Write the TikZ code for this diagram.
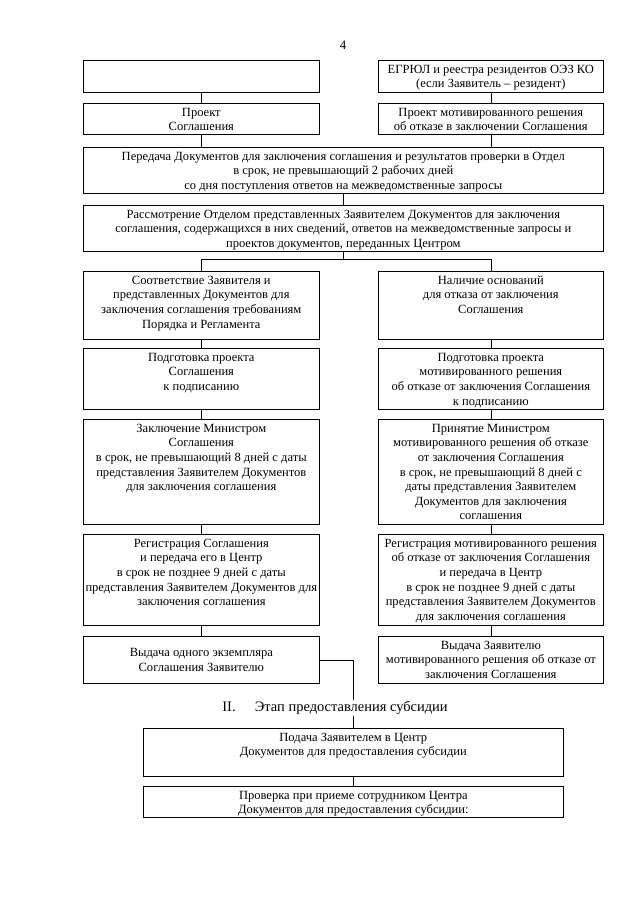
\documentclass[tikz,border=0pt]{standalone}
\usepackage{fontspec}
\setmainfont{Liberation Serif}
\usepackage{tikz}
\usetikzlibrary{calc}

\newlength{\px}
\setlength{\px}{0.0328cm}
\newcommand{\cell}[4][t]{\parbox[c][#3\px][#1]{#2\px}{\vspace{2.6pt}\makebox[\linewidth]{\begin{tabular}{@{}c@{}}#4\end{tabular}}}}

\begin{document}
\begin{tikzpicture}[x=0.0328cm,y=-0.0328cm,line width=0.6pt,
  blk/.style={draw,inner sep=0pt,anchor=north west,font=\fontsize{11.7}{13.6}\selectfont}]
\useasboundingbox (0,0) rectangle (640,898);
\node[font=\fontsize{12}{13.8}\selectfont] (pnum) at (343,45) {4};
\node[blk] (tl) at (83,60) {\cell{236}{32}{}};
\node[blk] (tr) at (378,60) {\cell{225}{32}{ЕГРЮЛ и реестра резидентов ОЭЗ КО\\(если Заявитель – резидент)}};
\node[blk] (pl) at (83,103) {\cell{236}{31}{Проект\\Соглашения}};
\node[blk] (pr) at (378,103) {\cell{225}{31}{Проект мотивированного решения\\об отказе в заключении Соглашения}};
\node[blk] (per) at (83,147) {\cell{520}{46}{Передача Документов для заключения соглашения и результатов проверки в Отдел\\в срок, не превышающий 2 рабочих дней\\со дня поступления ответов на межведомственные запросы}};
\node[blk] (ras) at (83,205) {\cell{520}{46}{Рассмотрение Отделом представленных Заявителем Документов для заключения\\соглашения, содержащихся в них сведений, ответов на межведомственные запросы и\\проектов документов, переданных Центром}};
\node[blk] (soo) at (83,271) {\cell{236}{68}{Соответствие Заявителя и\\представленных Документов для\\заключения соглашения требованиям\\Порядка и Регламента}};
\node[blk] (nal) at (378,271) {\cell{225}{68}{Наличие оснований\\для отказа от заключения\\Соглашения}};
\node[blk] (podl) at (83,348) {\cell{236}{61}{Подготовка проекта\\Соглашения\\к подписанию}};
\node[blk] (podr) at (378,348) {\cell{225}{61}{Подготовка проекта\\мотивированного решения\\об отказе от заключения Соглашения\\к подписанию}};
\node[blk] (zak) at (83,419) {\cell{236}{105}{Заключение Министром\\Соглашения\\в срок, не превышающий 8 дней с даты\\представления Заявителем Документов\\для заключения соглашения}};
\node[blk] (prin) at (378,419) {\cell{225}{105}{Принятие Министром\\мотивированного решения об отказе\\от заключения Соглашения\\в срок, не превышающий 8 дней с\\даты представления Заявителем\\Документов для заключения\\соглашения}};
\node[blk] (regl) at (83,534) {\cell{236}{91}{Регистрация Соглашения\\и передача его в Центр\\в срок не позднее 9 дней с даты\\представления Заявителем Документов для\\заключения соглашения}};
\node[blk] (regr) at (378,534) {\cell{225}{91}{Регистрация мотивированного решения\\об отказе от заключения Соглашения\\и передача в Центр\\в срок не позднее 9 дней с даты\\представления Заявителем Документов\\для заключения соглашения}};
\node[blk] (vydl) at (83,636) {\cell[c]{236}{47}{Выдача одного экземпляра\\Соглашения Заявителю}};
\node[blk] (vydr) at (378,636) {\cell{225}{47}{Выдача Заявителю\\мотивированного решения об отказе от\\заключения Соглашения}};
\node[blk] (pod) at (143,728) {\cell{420}{48}{Подача Заявителем в Центр\\Документов для предоставления субсидии}};
\node[blk] (prov) at (143,786) {\cell{420}{31}{Проверка при приеме сотрудником Центра\\Документов для предоставления субсидии:}};
\draw (tl) -- (pl);
\draw (tr) -- (pr);
\draw (pl) -- (pl.south |- per.north);
\draw (pr) -- (pr.south |- per.north);
\draw (per) -- (ras);
\coordinate (split) at ($(ras.south)+(0,8)$);
\draw (ras.south) -- (split);
\draw (soo.north) |- (split) -| (nal.north);
\draw (soo) -- (podl);
\draw (nal) -- (podr);
\draw (podl) -- (zak);
\draw (podr) -- (prin);
\draw (zak) -- (regl);
\draw (prin) -- (regr);
\draw (regl) -- (vydl);
\draw (regr) -- (vydr);
\draw (vydl.east) -| (pod.north);
\draw (pod) -- (prov);
\node[fill=white,inner sep=1pt,anchor=west,font=\fontsize{13.5}{15}\selectfont] (etap) at (221,708) {II.\hspace{18pt}Этап предоставления субсидии};
\end{tikzpicture}
\end{document}
